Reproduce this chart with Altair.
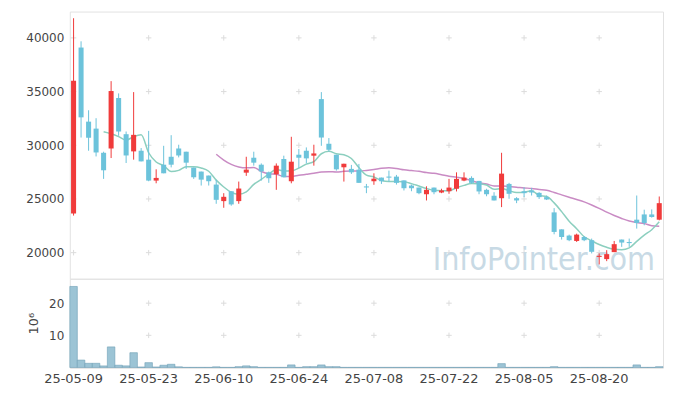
import altair as alt
import pandas as pd

dates = [
    "25-05-09", "25-05-12", "25-05-13", "25-05-14", "25-05-15", "25-05-16", "25-05-19", "25-05-20",
    "25-05-21", "25-05-22", "25-05-23", "25-05-26", "25-05-27", "25-05-28", "25-05-29", "25-05-30",
    "25-06-02", "25-06-04", "25-06-05", "25-06-09", "25-06-10", "25-06-11", "25-06-12", "25-06-13",
    "25-06-16", "25-06-17", "25-06-18", "25-06-19", "25-06-20", "25-06-23", "25-06-24", "25-06-25",
    "25-06-26", "25-06-27", "25-06-30", "25-07-01", "25-07-02", "25-07-03", "25-07-04", "25-07-07",
    "25-07-08", "25-07-09", "25-07-10", "25-07-11", "25-07-14", "25-07-15", "25-07-16", "25-07-17",
    "25-07-18", "25-07-21", "25-07-22", "25-07-23", "25-07-24", "25-07-25", "25-07-28", "25-07-29",
    "25-07-30", "25-07-31", "25-08-01", "25-08-04", "25-08-05", "25-08-06", "25-08-07", "25-08-08",
    "25-08-11", "25-08-12", "25-08-13", "25-08-14", "25-08-18", "25-08-19", "25-08-20", "25-08-21",
    "25-08-22", "25-08-25", "25-08-26", "25-08-27", "25-08-28", "25-08-29", "25-09-01",
]

opens = [
    23650, 39100, 32200, 31550, 29300, 29700, 34400, 31030, 29430, 29490,
    28660, 26710, 28190, 28930, 29700, 29400, 27920, 27550, 27180, 26340,
    24800, 25720, 24800, 27450, 28840, 28190, 27480, 27300, 28720, 26650,
    29120, 29490, 29030, 34300, 30140, 29120, 27950, 27800, 27730, 26150,
    26650, 26990, 27080, 27080, 26730, 26250, 26060, 25440, 26060, 25600,
    25720, 25950, 26710, 26960, 26680, 25850, 25300, 25070, 26400, 25070,
    25720, 25790, 25570, 25170, 23750, 22170, 21590, 21090, 21460, 21160,
    19610, 19400, 20050, 21220, 20970, 23070, 23560, 23560, 23070,
]
highs = [
    41830, 39680, 33260, 32520, 29400, 35970, 34830, 31280, 34950, 29740,
    31340, 27760, 29950, 30940, 30050, 29400, 27920, 27550, 27180, 26780,
    25540, 25720, 26620, 28930, 29400, 28310, 27550, 28310, 29030, 30790,
    29650, 29800, 30050, 34950, 30670, 29120, 28280, 28170, 28260, 26400,
    27390, 26990, 27640, 27240, 26730, 26340, 26060, 26180, 26060, 25950,
    26870, 27480, 27480, 27110, 26680, 25950, 25630, 29300, 26500, 25170,
    26090, 26030, 25630, 25320, 24150, 22170, 21680, 21770, 21550, 21310,
    19930, 20230, 21090, 21220, 21310, 25320, 24000, 24030, 25230,
]
lows = [
    23450, 30720, 29490, 28960, 26870, 28810, 30880, 28350, 28660, 28500,
    26650, 26460, 27390, 27940, 28870, 27800, 26870, 26250, 26250, 24550,
    24180, 24370, 24550, 27150, 28100, 26710, 26500, 25850, 27020, 26460,
    27890, 28310, 28100, 29950, 29430, 27640, 26620, 27330, 26500, 25540,
    26320, 26400, 26620, 26340, 25790, 25720, 25440, 24860, 25440, 25540,
    25480, 25700, 26650, 26400, 25440, 25250, 24860, 24240, 25020, 24610,
    25170, 25320, 25000, 24900, 21710, 21220, 21070, 21000, 21070, 19930,
    18900, 19210, 20050, 20540, 20540, 22240, 22550, 23260, 23010,
]
closes = [
    36000, 32600, 30700, 29330, 27670, 35050, 31280, 29050, 30970, 28500,
    26710, 26960, 27390, 28190, 29050, 28380, 27020, 26800, 26650, 24920,
    25200, 24490, 25970, 27730, 28380, 27570, 26930, 28100, 27020, 28470,
    28840, 28780, 29240, 30720, 29580, 27760, 28280, 27480, 26500, 26090,
    26890, 26650, 26990, 26500, 26000, 26000, 25540, 25850, 25630, 25790,
    26060, 26870, 26990, 26500, 25700, 25440, 24860, 27360, 25480, 24860,
    25540, 25600, 25170, 24950, 21930, 21460, 21160, 21680, 21160, 20080,
    19700, 19860, 20790, 20940, 20910, 22760, 22760, 23320, 24610,
]
# volume in millions of shares
volumes = [
    25.2, 2.3, 1.3, 1.3, 0.5, 6.4, 0.7, 0.5, 4.6, 0.15,
    1.5, 0.15, 0.7, 1.0, 0.2, 0.03, 0.03, 0.03, 0.03, 0.2,
    0.03, 0.03, 0.25, 0.5, 0.25, 0.03, 0.03, 0.03, 0.03, 0.8,
    0.03, 0.25, 0.25, 0.8, 0.25, 0.25, 0.03, 0.03, 0.03, 0.03,
    0.03, 0.03, 0.03, 0.03, 0.03, 0.03, 0.03, 0.03, 0.03, 0.03,
    0.03, 0.03, 0.03, 0.03, 0.03, 0.03, 0.03, 1.2, 0.03, 0.03,
    0.03, 0.03, 0.03, 0.03, 0.25, 0.03, 0.03, 0.03, 0.03, 0.03,
    0.03, 0.03, 0.03, 0.03, 0.03, 0.8, 0.03, 0.03, 0.25,
]

price_ticks = [20000, 25000, 30000, 35000, 40000]
volume_ticks = [10, 20]
x_tick_labels = dates[::10]
WATERMARK = "InfoPointer.com"

RED = "#f03b3b"
BLUE = "#6cc3db"
MA5_COLOR = "#8ccfbf"
MA20_COLOR = "#c98bc4"
GRID_COLOR = "#dcdcdc"
FONT = "DejaVu Sans"
WM_FONT = "DejaVu Sans Condensed, sans-serif"

df = pd.DataFrame({
    "date": dates, "open": opens, "high": highs, "low": lows,
    "close": closes, "volume": volumes,
})
df["idx"] = range(len(df))
df["dir"] = ["up" if c >= o else "down" for o, c in zip(opens, closes)]
lo = df[["open", "close"]].min(axis=1)
hi = df[["open", "close"]].max(axis=1)
gap = (hi - lo) < 100
df["body_lo"] = lo.where(~gap, (lo + hi) / 2 - 50)
df["body_hi"] = hi.where(~gap, (lo + hi) / 2 + 50)

W = 595
H_PRICE = 268
H_VOL = 89

price_x_scale = alt.Scale(paddingInner=0.33, paddingOuter=0.165)
xs_price = alt.X("date:O", sort=dates, scale=price_x_scale, axis=None)
ys_price = alt.Scale(domain=[17570, 42450], nice=False, zero=False)
price_y_axis = alt.Axis(values=price_ticks, format="d", title=None, grid=False, ticks=False, domain=False,
                        labelPadding=6, labelFontSize=12)
color_enc = alt.Color("dir:N", scale=alt.Scale(domain=["up", "down"], range=[RED, BLUE]), legend=None)

base = alt.Chart(df)

grid_price_df = pd.DataFrame([(d, v) for d in x_tick_labels for v in price_ticks], columns=["date", "v"])
grid_price = alt.Chart(grid_price_df).mark_point(
    shape="M-1,0L1,0M0,-1L0,1", size=30, filled=False, stroke=GRID_COLOR, strokeWidth=1, opacity=1
).encode(x=xs_price, y=alt.Y("v:Q", scale=ys_price, axis=price_y_axis))

wm = alt.Chart(pd.DataFrame({"t": [WATERMARK]})).mark_text(
    font=WM_FONT, fontSize=32, color="#c8dae5", align="right", baseline="alphabetic"
).encode(text="t:N", x=alt.value(587), y=alt.value(259))

wick = base.mark_rule(strokeWidth=1).encode(
    x=xs_price,
    y=alt.Y("low:Q", scale=ys_price, axis=price_y_axis),
    y2="high:Q",
    color=color_enc,
)
body = base.mark_bar().encode(
    x=xs_price,
    y=alt.Y("body_lo:Q", scale=ys_price, axis=price_y_axis),
    y2="body_hi:Q",
    color=color_enc,
)
ma5 = base.transform_window(
    ma="mean(close)", n="count()", frame=[-4, 0], sort=[alt.SortField("idx")]
).transform_filter("datum.n >= 5").mark_line(
    color=MA5_COLOR, strokeWidth=1.5, interpolate="monotone"
).encode(x=xs_price, y=alt.Y("ma:Q", scale=ys_price, axis=price_y_axis))
ma20 = base.transform_window(
    ma="mean(close)", n="count()", frame=[-19, 0], sort=[alt.SortField("idx")]
).transform_filter("datum.n >= 20").mark_line(
    color=MA20_COLOR, strokeWidth=1.5, interpolate="monotone"
).encode(x=xs_price, y=alt.Y("ma:Q", scale=ys_price, axis=price_y_axis))

price = alt.layer(grid_price, wm, ma20, ma5, wick, body).properties(width=W, height=H_PRICE)

xs_vol_scale = alt.Scale(paddingInner=0, paddingOuter=0)
vol_x_axis = alt.Axis(values=x_tick_labels, labelAngle=0, ticks=False, title=None, grid=False,
                      domainColor="#dddddd", labelPadding=5, labelFontSize=13)
ys_vol = alt.Scale(domain=[0, 27.6], nice=False)
vol_y_axis = alt.Axis(values=volume_ticks, title="10⁶", grid=False, ticks=False, domain=False,
                      labelPadding=6, labelFontSize=12, titleFontSize=13, titleFontWeight="normal",
                      titlePadding=8, titleColor="#444444")
grid_vol_df = pd.DataFrame([(d, v) for d in x_tick_labels for v in volume_ticks], columns=["date", "v"])
grid_vol = alt.Chart(grid_vol_df).mark_point(
    shape="M-1,0L1,0M0,-1L0,1", size=30, filled=False, stroke=GRID_COLOR, strokeWidth=1, opacity=1
).encode(x=alt.X("date:O", sort=dates, scale=xs_vol_scale, axis=vol_x_axis),
         y=alt.Y("v:Q", scale=ys_vol, axis=vol_y_axis))
vol = base.mark_bar(fill="#9cc4d5", stroke="#6f9fb6", strokeWidth=0.6).encode(
    x=alt.X("date:O", sort=dates, scale=xs_vol_scale, axis=vol_x_axis),
    y=alt.Y("volume:Q", scale=ys_vol, axis=vol_y_axis),
)
volume = alt.layer(grid_vol, vol).properties(width=W, height=H_VOL)

chart = alt.vconcat(price, volume, spacing=0, bounds="flush").properties(
    padding={"left": 17, "top": 2, "right": 1, "bottom": 0}
).configure_view(stroke="#e2e2e2").configure_axis(
    labelFont=FONT, titleFont=FONT, labelColor="#444444"
)

chart.save("out.html", embed_options={"renderer": "svg", "actions": False})
